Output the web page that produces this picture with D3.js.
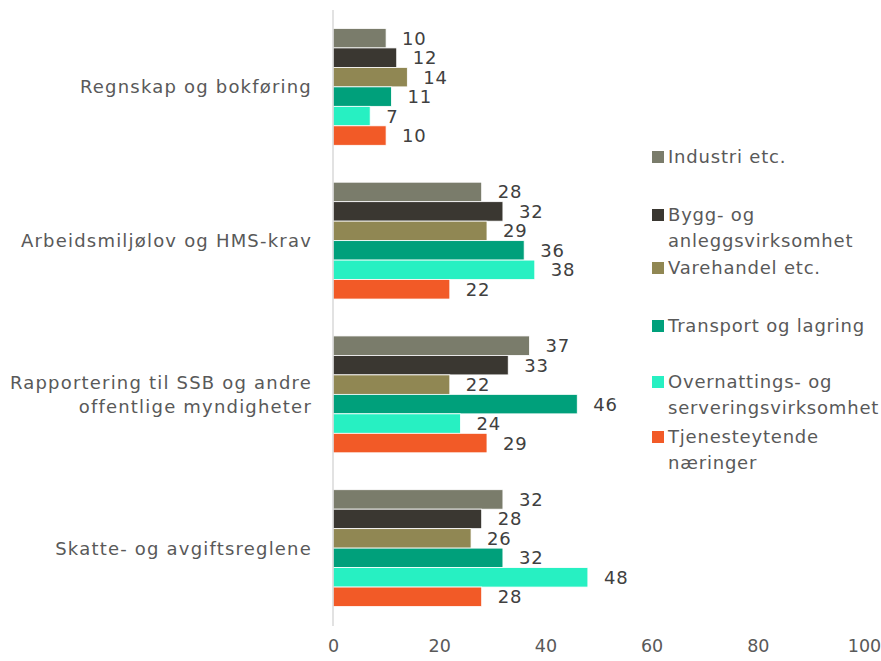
<!DOCTYPE html>
<html>
<head>
<meta charset="utf-8">
<script src="https://cdn.jsdelivr.net/npm/d3@7"></script>
<style>
  body { margin: 0; background: #fff; }
  text { font-family: "DejaVu Sans", sans-serif; }
</style>
</head>
<body>
<script>
// chart data
var categories = [
  ["Regnskap og bokføring"],
  ["Arbeidsmiljølov og HMS-krav"],
  ["Rapportering til SSB og andre", "offentlige myndigheter"],
  ["Skatte- og avgiftsreglene"]
];
var seriesNames = ["Industri etc.", "Bygg- og anleggsvirksomhet", "Varehandel etc.",
  "Transport og lagring", "Overnattings- og serveringsvirksomhet", "Tjenesteytende næringer"];
var legendLines = [["Industri etc."], ["Bygg- og", "anleggsvirksomhet"], ["Varehandel etc."],
  ["Transport og lagring"], ["Overnattings- og", "serveringsvirksomhet"], ["Tjenesteytende", "næringer"]];
var industri     = [10, 28, 37, 32];
var bygg         = [12, 32, 33, 28];
var varehandel   = [14, 29, 22, 26];
var transport    = [11, 36, 46, 32];
var overnatting  = [7, 38, 24, 48];
var tjeneste     = [10, 22, 29, 28];
var xTicks = [0, 20, 40, 60, 80, 100];

var colors = ["#7a7c6b", "#3a3731", "#908753", "#00a07b", "#27f0c2", "#f25a27"];
var series = [industri, bygg, varehandel, transport, overnatting, tjeneste];

var width = 881, height = 661;
var svg = d3.select("body").append("svg")
    .attr("width", width)
    .attr("height", height);

var x = d3.scaleLinear().domain([0, 100]).range([333, 864]);
var y0 = d3.scaleBand().domain(d3.range(categories.length)).range([10, 625])
    .paddingInner(0.24).paddingOuter(0.12);
var y1 = d3.scaleBand().domain(d3.range(series.length)).range([0, y0.bandwidth()]);

// x axis labels
var xAxis = d3.axisBottom(x).tickValues(xTicks).tickSize(0).tickPadding(0);
var gx = svg.append("g")
    .attr("transform", "translate(0,640)")
    .call(xAxis);
gx.select(".domain").remove();
gx.selectAll("text")
    .attr("fill", "#595959")
    .attr("font-size", "17.5px")
    .attr("font-family", "DejaVu Sans")
    .attr("dy", "0.71em");

// bars
var groups = svg.selectAll(".grp")
    .data(categories)
  .enter().append("g")
    .attr("class", "grp")
    .attr("transform", function(d, i) { return "translate(0," + y0(i) + ")"; });

groups.each(function(c, ci) {
  var g = d3.select(this);
  series.forEach(function(s, si) {
    g.append("rect")
      .attr("x", x(0))
      .attr("y", y1(si))
      .attr("width", x(s[ci]) - x(0))
      .attr("height", y1.bandwidth())
      .attr("fill", colors[si])
      .attr("stroke", "#fff")
      .attr("stroke-width", 0.8);
    g.append("text")
      .attr("x", x(s[ci]) + 16)
      .attr("y", y1(si) + y1.bandwidth() / 2)
      .attr("dy", "0.36em")
      .attr("font-size", "18px")
      .attr("letter-spacing", "0.8px")
      .attr("fill", "#404040")
      .text(s[ci]);
  });
});

// category labels
groups.append("text")
    .attr("text-anchor", "end")
    .attr("font-size", "18px")
    .attr("letter-spacing", "1.2px")
    .attr("fill", "#595959")
    .each(function(d) {
      var t = d3.select(this);
      var n = d.length;
      d.forEach(function(line, li) {
        t.append("tspan")
          .attr("x", 312)
          .attr("y", y0.bandwidth() / 2 + (li - (n - 1) / 2) * 24)
          .attr("dy", "0.36em")
          .text(line);
      });
    });

// axis line
svg.append("line")
    .attr("x1", x(0)).attr("x2", x(0))
    .attr("y1", 10).attr("y2", 626)
    .attr("stroke", "#d9d9d9")
    .attr("stroke-width", 1.5);

// legend
var legendY = [157, 215, 268, 326, 382, 437];
var legend = svg.append("g");
legendLines.forEach(function(lines, i) {
  legend.append("rect")
    .attr("x", 652).attr("y", legendY[i] - 6)
    .attr("width", 12).attr("height", 12)
    .attr("fill", colors[i]);
  lines.forEach(function(line, li) {
    legend.append("text")
      .attr("x", 668)
      .attr("y", legendY[i] + li * 25.5)
      .attr("dy", "0.36em")
      .attr("font-size", "18px")
      .attr("letter-spacing", "0.8px")
      .attr("fill", "#595959")
      .text(line);
  });
});
</script>
</body>
</html>
